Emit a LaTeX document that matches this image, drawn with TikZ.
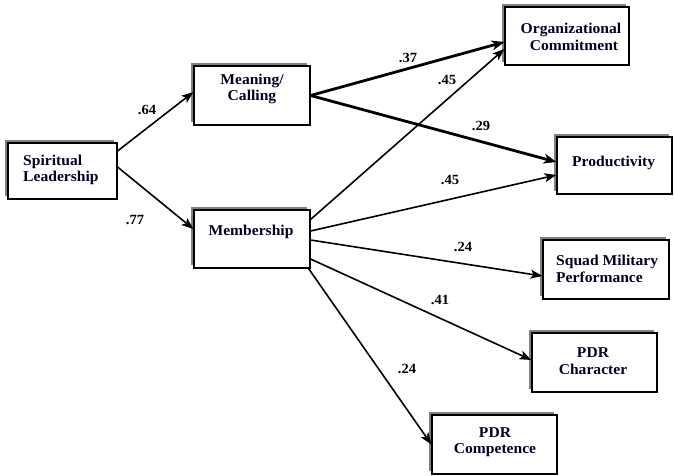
\documentclass[tikz,border=0pt]{standalone}
\usepackage{fontspec}
\setmainfont[FakeStretch=1.04]{Liberation Serif}
\usetikzlibrary{arrows.meta,shadows}
\begin{document}
\begin{tikzpicture}[x=1pt,y=-1pt,
  box/.style={draw=black,line width=1.1pt,fill=white,inner sep=0pt,
    drop shadow={shadow xshift=-2.6pt,shadow yshift=2.6pt,fill=black!50,opacity=1}},
  txt/.style={font=\fontsize{15}{16.5}\selectfont\bfseries,text=black!85!blue,inner sep=0pt},
  coef/.style={font=\fontsize{14}{15}\selectfont\bfseries,inner sep=0pt},
  path/.style={line width=1.6pt,-{Stealth[length=12pt,width=9pt,inset=3pt]}},
  strong/.style={line width=2.8pt,-{Stealth[length=13pt,width=10pt,inset=4pt]}}]
\useasboundingbox (0,0) rectangle (674,475);

% boxes (x and y measured from the top left corner)
\node[box,minimum width=109pt,minimum height=56pt] (sl)   at (62.5,171)  {};
\node[box,minimum width=116pt,minimum height=59pt] (mc)   at (252,95.5)  {};
\node[box,minimum width=116pt,minimum height=58pt] (mem)  at (252,239)   {};
\node[box,minimum width=124pt,minimum height=58pt] (oc)   at (567,36)    {};
\node[box,minimum width=115pt,minimum height=57pt] (prod) at (614.5,165.5) {};
\node[box,minimum width=126pt,minimum height=59pt] (smp)  at (606,269.5) {};
\node[box,minimum width=125pt,minimum height=59pt] (pch)  at (594.5,362.5) {};
\node[box,minimum width=125pt,minimum height=59pt] (pco)  at (494.5,444.5) {};

% box texts
\node[txt,align=left,anchor=west]  (sl-t)   at (23,170)   {Spiritual\\Leadership};
\node[txt,align=center]            (mc-t)   at (252,89)   {Meaning/\\Calling};
\node[txt,align=center]            (mem-t)  at (251,232)  {Membership};
\node[txt,align=center]            (oc-t)   at (571,37)   {Organizational\\\hspace*{6pt}Commitment};
\node[txt,anchor=west]             (prod-t) at (572,163)  {Productivity};
\node[txt,align=left,anchor=west]  (smp-t)  at (556,269)  {Squad Military\\Performance};
\node[txt,align=center]            (pch-t)  at (593,361)  {PDR\\Character};
\node[txt,align=center]            (pco-t)  at (495,442)  {PDR\\Competence};

% paths (yshift is in page units, so positive moves up)
\draw[path] ([yshift=20pt]sl.east) -- ([yshift=3.5pt]mc.west);
\draw[path] ([yshift=4pt]sl.east) -- ([yshift=10pt]mem.west);
\draw[strong] (mc.east) -- ([yshift=-6pt]oc.west);
\draw[strong] (mc.east) -- ([yshift=3.5pt]prod.west);
\draw[path] ([yshift=-10pt]mem.north east) -- ([yshift=-13pt]oc.west);
\draw[path] ([yshift=8pt]mem.east) -- ([yshift=-9.5pt]prod.west);
\draw[path] ([yshift=-1pt]mem.east) -- ([yshift=-6.5pt]smp.west);
\draw[path] ([yshift=-20pt]mem.east) -- ([yshift=2.5pt]pch.west);
\draw[path] ([xshift=-2pt]mem.south east) -- (pco.west);

% path coefficients
\node[coef] (c1) at (147,110) {.64};
\node[coef] (c2) at (135,220) {.77};
\node[coef] (c3) at (408,58)  {.37};
\node[coef] (c4) at (447,80)  {.45};
\node[coef] (c5) at (481,126) {.29};
\node[coef] (c6) at (450,180) {.45};
\node[coef] (c7) at (463,247) {.24};
\node[coef] (c8) at (440,300) {.41};
\node[coef] (c9) at (407,369) {.24};
\end{tikzpicture}
\end{document}
